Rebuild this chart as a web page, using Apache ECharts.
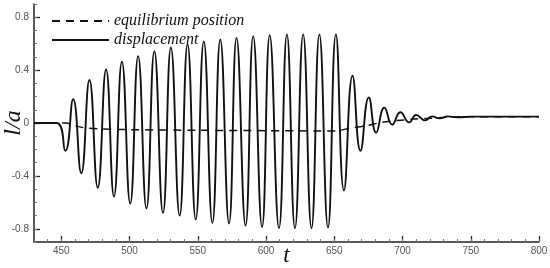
<!DOCTYPE html>
<html>
<head>
<meta charset="utf-8">
<script src="https://cdn.jsdelivr.net/npm/echarts@6/dist/echarts.min.js"></script>
<style>
html,body{margin:0;padding:0;background:#fff;}
#c{width:550px;height:268px;}
</style>
</head>
<body>
<div id="c"></div>
<script>
// Displacement curve: times and values of turning points
var dispT = [430, 446.5, 452.9, 458.7, 464.6, 470.6, 476.7, 482.8, 488.6, 494.4, 500.5, 506.3, 512.4, 518.2, 524.5, 530.3, 536.7, 542.5, 548.5, 554.4, 560.7, 566.5, 572.9, 578.4, 585.0, 590.6, 597.1, 602.7, 609.5, 615.3, 621.2, 627.2, 633.3, 639.1, 645.4, 651.2, 657.1, 663.4, 669.2, 675.3, 680.7, 686.7, 692.5, 698.4, 704.9, 710.0, 716.6, 721.7, 727.0, 733.3, 740.0, 750, 800];
var dispV = [0, 0, -0.21, 0.18, -0.38, 0.325, -0.49, 0.405, -0.556, 0.463, -0.61, 0.506, -0.647, 0.543, -0.68, 0.571, -0.70, 0.596, -0.73, 0.617, -0.755, 0.632, -0.76, 0.644, -0.775, 0.657, -0.787, 0.664, -0.795, 0.67, -0.795, 0.67, -0.795, 0.67, -0.79, 0.67, -0.51, 0.357, -0.21, 0.194, -0.073, 0.116, -0.013, 0.081, 0.005, 0.06, 0.02, 0.05, 0.035, 0.05, 0.043, 0.048, 0.048];
// Equilibrium position
var eqT = [430, 454, 458, 466, 478, 500, 550, 600, 640, 651, 661, 672, 684, 696, 708.5, 720.7, 732.6, 745, 800];
var eqV = [0, 0, -0.015, -0.035, -0.045, -0.05, -0.055, -0.058, -0.06, -0.06, -0.04, -0.023, 0.003, 0.018, 0.03, 0.035, 0.043, 0.048, 0.048];
// Axis ticks
var xMajor = [450, 500, 550, 600, 650, 700, 750, 800];
var yMajor = [-0.8, -0.4, 0, 0.4, 0.8];

function zip(a, b) { return a.map(function (v, i) { return [v, b[i]]; }); }

var axisColor = '#222';
var labelStyle = { fontFamily: 'Liberation Sans', fontSize: 10, color: '#555' };

var chart = echarts.init(document.getElementById('c'), null, { renderer: 'canvas' });
chart.setOption({
  animation: false,
  backgroundColor: '#fff',
  grid: { left: 34, right: 11, top: 4, bottom: 26, containLabel: false, outerBoundsMode: 'none' },
  legend: {
    orient: 'vertical', left: 46, top: 8,
    itemWidth: 57, itemHeight: 14, itemGap: 3,
    itemStyle: { color: 'rgba(0,0,0,0)', borderWidth: 0, opacity: 0 },
    textStyle: { fontFamily: 'Liberation Serif', fontStyle: 'italic', fontSize: 16, color: '#111' },
    data: ['equilibrium position', 'displacement']
  },
  xAxis: [{
    type: 'value', min: 430, max: 800, interval: 10, position: 'bottom',
    name: 't', nameLocation: 'middle', nameGap: 2, nameMoveOverlap: false,
    nameTextStyle: { fontFamily: 'Liberation Serif', fontStyle: 'italic', fontSize: 23, color: '#111' },
    axisLine: { show: true, onZero: false, lineStyle: { color: axisColor, width: 1.5 } },
    axisTick: { show: true, inside: true, length: 6, customValues: xMajor, lineStyle: { color: axisColor, width: 1.3 } },
    axisLabel: { show: true, margin: 4, customValues: xMajor, ...labelStyle },
    splitLine: { show: false }
  }, {
    type: 'value', min: 430, max: 800, interval: 10, position: 'bottom',
    axisLine: { show: false, onZero: false },
    axisTick: { show: true, inside: true, length: 3, lineStyle: { color: '#777', width: 1 } },
    axisLabel: { show: false },
    splitLine: { show: false }
  }],
  yAxis: [{
    type: 'value', min: -0.9, max: 0.9, interval: 0.1, position: 'left',
    name: 'l/a', nameLocation: 'middle', nameGap: 8, nameRotate: 90, nameMoveOverlap: false,
    nameTextStyle: { fontFamily: 'Liberation Serif', fontStyle: 'italic', fontSize: 24, color: '#111' },
    axisLine: { show: true, onZero: false, lineStyle: { color: axisColor, width: 1.5 } },
    axisTick: { show: true, inside: true, length: 6, customValues: yMajor, lineStyle: { color: axisColor, width: 1.3 } },
    axisLabel: { show: true, margin: 5, customValues: yMajor, ...labelStyle,
      formatter: function (v) { return String(Math.round(v * 10) / 10); } },
    splitLine: { show: false }
  }, {
    type: 'value', min: -0.9, max: 0.9, interval: 0.1, position: 'left',
    axisLine: { show: false, onZero: false },
    axisTick: { show: true, inside: true, length: 3, lineStyle: { color: '#777', width: 1 } },
    axisLabel: { show: false },
    splitLine: { show: false }
  }],
  series: [{
    name: 'equilibrium position', type: 'line', xAxisIndex: 0, yAxisIndex: 0,
    symbol: 'none', smooth: 0.3, z: 2,
    lineStyle: { color: '#111', width: 1.5, type: [8, 6] },
    itemStyle: { color: '#111' },
    data: zip(eqT, eqV)
  }, {
    name: 'displacement', type: 'line', xAxisIndex: 0, yAxisIndex: 0,
    symbol: 'none', smooth: 0.5, z: 3,
    lineStyle: { color: '#111', width: 1.9, type: 'solid' },
    itemStyle: { color: '#111' },
    data: zip(dispT, dispV)
  }]
});
</script>
</body>
</html>
